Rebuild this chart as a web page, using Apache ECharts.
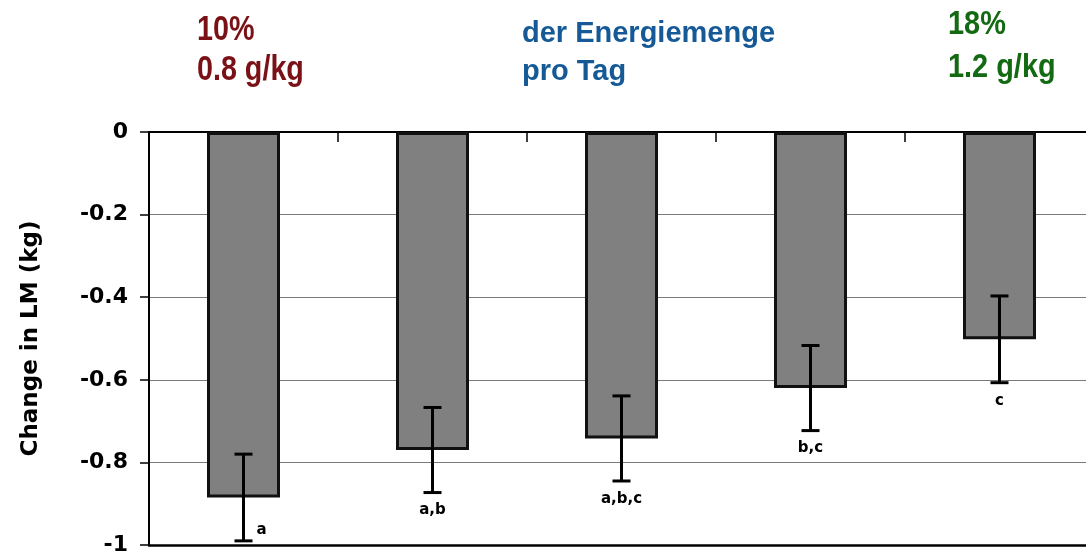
<!DOCTYPE html>
<html>
<head>
<meta charset="utf-8">
<script src="https://cdn.jsdelivr.net/npm/echarts@6/dist/echarts.min.js"></script>
<style>
  html, body { margin: 0; padding: 0; background: #fff; }
  #chart { width: 1086px; height: 553px; }
</style>
</head>
<body>
<div id="chart"></div>
<script>
// Groups of protein intake (from 10 % / 0.8 g/kg to 18 % / 1.2 g/kg)
const groups = ['1', '2', '3', '4', '5'];
// Mean change in lean mass (kg) and its error half-width
const means = [-0.885, -0.77, -0.742, -0.62, -0.502];
const errors = [0.105, 0.103, 0.103, 0.103, 0.105];
// Significance letters under each error bar
const letters = ['a', 'a,b', 'a,b,c', 'b,c', 'c'];
// Y-axis tick labels, from 0 down to -1
const yTicks = ['0', '-0.2', '-0.4', '-0.6', '-0.8', '-1'];
const yMin = -1, yMax = 0, yStep = 0.2;

const chart = echarts.init(document.getElementById('chart'), null, { renderer: 'canvas' });

const errData = groups.map((g, i) => [i, means[i] - errors[i], means[i] + errors[i]]);

const option = {
  animation: false,
  backgroundColor: '#ffffff',
  grid: { left: 149, top: 132, width: 945, height: 413, containLabel: false, outerBoundsMode: 'none' },
  xAxis: [
    {
      type: 'category', data: groups, position: 'top',
      axisLine: { show: true, onZero: false, lineStyle: { color: '#000', width: 2 } },
      axisTick: { show: true, inside: true, length: 10, lineStyle: { color: '#000', width: 1.5 } },
      axisLabel: { show: false },
      splitLine: { show: false }
    },
    {
      type: 'category', data: groups, position: 'bottom',
      axisLine: { show: true, onZero: false, lineStyle: { color: '#000', width: 2.5 } },
      axisTick: { show: false },
      axisLabel: { show: false },
      splitLine: { show: false }
    }
  ],
  yAxis: {
    type: 'value', min: yMin, max: yMax, interval: yStep,
    axisLine: { show: true, lineStyle: { color: '#000', width: 2 } },
    axisTick: { show: true, inside: false, length: 9, lineStyle: { color: '#000', width: 1.5 } },
    axisLabel: {
      margin: 21, color: '#000', fontFamily: 'DejaVu Sans', fontWeight: 'bold', fontSize: 22,
      formatter: v => yTicks[Math.round(-v / yStep)]
    },
    splitLine: { show: true, lineStyle: { color: '#7a7a7a', width: 1 } },
    name: 'Change in LM (kg)', nameLocation: 'middle', nameRotate: 90, nameGap: 106,
    nameTextStyle: { color: '#000', fontFamily: 'DejaVu Sans', fontWeight: 'bold', fontSize: 23 }
  },
  series: [
    {
      type: 'bar', data: means, xAxisIndex: 0, barWidth: 73,
      itemStyle: { color: '#808080', borderColor: '#111', borderWidth: 3 },
      z: 2
    },
    {
      type: 'custom', xAxisIndex: 0, data: errData, z: 5,
      renderItem(params, api) {
        const i = api.value(0);
        const lo = api.coord([i, api.value(1)]);
        const hi = api.coord([i, api.value(2)]);
        const floorY = api.coord([i, yMin])[1];
        const cap = 9;
        const line = { stroke: '#000', lineWidth: 3 };
        // Letter goes under the bar, or beside it when it would fall below the axis floor
        let tx = lo[0], ty = lo[1] + 18, align = 'center';
        if (ty + 8 > floorY) { tx = lo[0] + cap + 4; ty = lo[1] - 11; align = 'left'; }
        return {
          type: 'group',
          children: [
            { type: 'line', shape: { x1: lo[0], y1: lo[1], x2: hi[0], y2: hi[1] }, style: line },
            { type: 'line', shape: { x1: lo[0] - cap, y1: lo[1], x2: lo[0] + cap, y2: lo[1] }, style: line },
            { type: 'line', shape: { x1: hi[0] - cap, y1: hi[1], x2: hi[0] + cap, y2: hi[1] }, style: line },
            {
              type: 'text', x: tx, y: ty,
              style: {
                text: letters[params.dataIndex], fill: '#000', align: align, verticalAlign: 'middle',
                font: 'bold 15px "DejaVu Sans"'
              }
            }
          ]
        };
      }
    }
  ],
  graphic: [
    { type: 'text', x: 197, y: 30, scaleX: 0.82, style: { text: '10%', fill: '#7a1116', font: 'bold 35px "Liberation Sans"', verticalAlign: 'middle' } },
    { type: 'text', x: 197, y: 70, scaleX: 0.82, style: { text: '0.8 g/kg', fill: '#7a1116', font: 'bold 35px "Liberation Sans"', verticalAlign: 'middle' } },
    { type: 'text', x: 522, y: 34, style: { text: 'der Energiemenge', fill: '#155a96', font: 'bold 29px "Liberation Sans"', verticalAlign: 'middle' } },
    { type: 'text', x: 522, y: 72, style: { text: 'pro Tag', fill: '#155a96', font: 'bold 29px "Liberation Sans"', verticalAlign: 'middle' } },
    { type: 'text', x: 948, y: 25, scaleX: 0.85, style: { text: '18%', fill: '#146a12', font: 'bold 34px "Liberation Sans"', verticalAlign: 'middle' } },
    { type: 'text', x: 948, y: 68, scaleX: 0.85, style: { text: '1.2 g/kg', fill: '#146a12', font: 'bold 34px "Liberation Sans"', verticalAlign: 'middle' } }
  ]
};

chart.setOption(option);
</script>
</body>
</html>
